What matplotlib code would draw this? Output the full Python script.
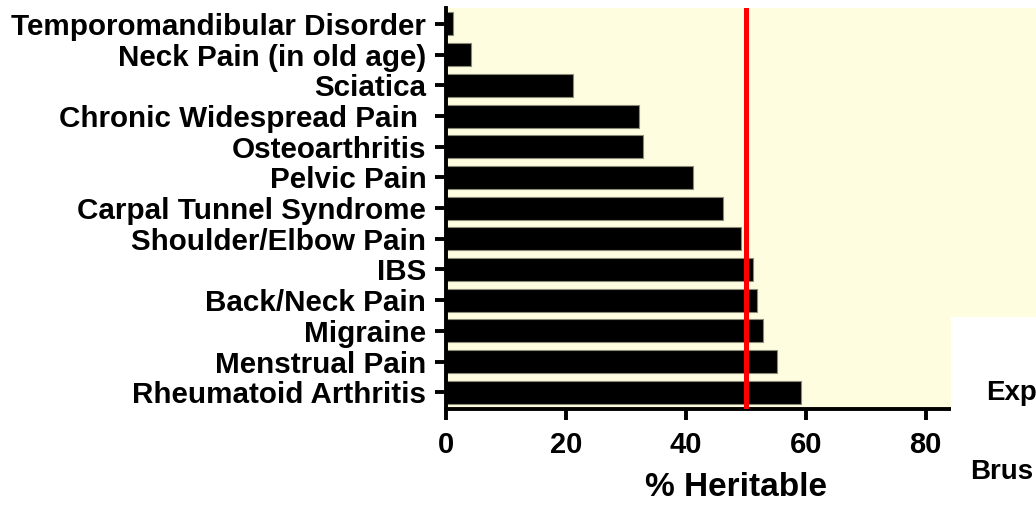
import matplotlib
matplotlib.use('Agg')
import matplotlib.pyplot as plt
from matplotlib.patches import Rectangle

plt.rcParams.update({
    'font.family': ['Liberation Sans', 'DejaVu Sans'],
    'font.weight': 'bold',
})

conditions = [
    'Temporomandibular Disorder',
    'Neck Pain (in old age)',
    'Sciatica',
    'Chronic Widespread Pain ',
    'Osteoarthritis',
    'Pelvic Pain',
    'Carpal Tunnel Syndrome',
    'Shoulder/Elbow Pain',
    'IBS',
    'Back/Neck Pain',
    'Migraine',
    'Menstrual Pain',
    'Rheumatoid Arthritis',
]
heritability = [1.2, 4.2, 21.2, 32.2, 32.9, 41.3, 46.3, 49.3, 51.3, 51.9, 52.9, 55.3, 59.3]
x_ticks = [0, 20, 40, 60, 80]
threshold = 50

W, H = 1036, 505
fig = plt.figure(figsize=(W / 100, H / 100), dpi=100)

# axes runs past the right edge of the image, as in the cropped original
x0, x1 = 445.7, 445.7 + 600
y_top, y_bot = 8, 408.5
ax = fig.add_axes([x0 / W, 1 - y_bot / H, (x1 - x0) / W, (y_bot - y_top) / H])
ax.set_facecolor('#fffde0')

ypos = list(range(len(conditions)))
ax.barh(ypos, heritability, height=0.75, color='black',
        edgecolor='#8a8a78', linewidth=0.8, zorder=2)
ax.axvline(threshold, color='red', linewidth=3.6, zorder=3)

ax.set_xlim(0, 100)
ax.set_ylim(len(conditions) - 0.47, -0.52)
ax.set_xticks(x_ticks)
ax.set_yticks(ypos)
ax.set_yticklabels(conditions, fontsize=21.3, fontweight='bold')
ax.tick_params(axis='x', labelsize=21, width=2.8, length=8, pad=8)
ax.tick_params(axis='y', width=2.8, length=8, pad=6)
for lab in ax.get_xticklabels():
    lab.set_fontweight('bold')

for side in ['top', 'right']:
    ax.spines[side].set_visible(False)
for side in ['left', 'bottom']:
    ax.spines[side].set_linewidth(2.8)

ax.set_xlabel('% Heritable', fontsize=24, fontweight='bold')
ax.xaxis.set_label_coords((736.5 - x0) / (x1 - x0), -(487 - y_bot) / (y_bot - y_top),
                          transform=ax.transAxes)
ax.xaxis.label.set_va('center')

# white panel at lower right (edge of a neighbouring chart, cropped)
fig.patches.append(Rectangle((951 / W, 0), 1, 1 - 317 / H, transform=fig.transFigure,
                             facecolor='white', edgecolor='none', zorder=5))
fig.text(986 / W, 1 - 393 / H, 'Exp', fontsize=20, fontweight='bold',
         va='center', ha='left', zorder=6)
fig.text(970 / W, 1 - 472 / H, 'Brus', fontsize=20, fontweight='bold',
         va='center', ha='left', zorder=6)

fig.savefig('out.png', dpi=100)
